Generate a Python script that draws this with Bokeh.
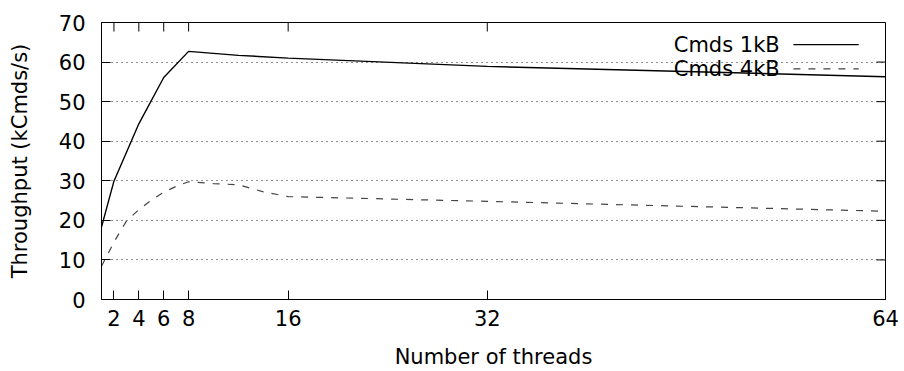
import math
from bokeh.plotting import figure
from bokeh.models import Range1d, FixedTicker, Label
from bokeh.embed import file_html
from bokeh.resources import INLINE

# Throughput vs. number of worker threads
threads_1k = [1, 2, 4, 6, 8, 12, 16, 32, 64]
kcmds_1k = [18.3, 29.9, 44.4, 56.1, 62.7, 61.7, 61.0, 58.9, 56.3]

threads_4k = [1, 2, 3, 4, 5, 6, 7, 8, 10, 12, 14, 16, 32, 64]
kcmds_4k = [8.4, 14.5, 19.8, 22.7, 25.1, 27.1, 28.6, 29.75, 29.3, 29.0, 27.2, 26.0, 24.8, 22.3]

x_ticks = [2, 4, 6, 8, 16, 32, 64]
y_ticks = [0, 10, 20, 30, 40, 50, 60, 70]

series_names = ["Cmds 1kB", "Cmds 4kB"]

FONT = "DejaVu Sans"
FS = "21px"
X_MIN, X_MAX = 1, 64
Y_MIN, Y_MAX = 0, 70
TICK_LEN = 9

p = figure(
    width=904, height=371,
    x_range=Range1d(X_MIN, X_MAX), y_range=Range1d(Y_MIN, Y_MAX),
    output_backend="svg", toolbar_location=None,
    min_border_left=101, min_border_right=19,
    min_border_top=22, min_border_bottom=72,
    x_axis_label="Number of threads",
    y_axis_label="Throughput (kCmds/s)",
)
p.background_fill_color = "white"
p.border_fill_color = "white"
p.outline_line_color = "black"
p.outline_line_width = 1

# dotted horizontal grid only
p.xgrid.visible = False
p.ygrid.ticker = FixedTicker(ticks=y_ticks)
p.ygrid.grid_line_color = "#222222"
p.ygrid.grid_line_dash = "1 4"
p.ygrid.grid_line_width = 1

for ax, ticks in ((p.xaxis[0], x_ticks), (p.yaxis[0], y_ticks)):
    ax.ticker = FixedTicker(ticks=ticks)
    ax.major_tick_in = TICK_LEN
    ax.major_tick_out = 0
    ax.minor_tick_in = 0
    ax.minor_tick_out = 0
    ax.axis_line_color = "black"
    ax.major_tick_line_color = "black"
    ax.major_label_text_font = FONT
    ax.major_label_text_font_size = FS
    ax.major_label_text_color = "black"
    ax.axis_label_text_font = FONT
    ax.axis_label_text_font_size = FS
    ax.axis_label_text_font_style = "normal"
    ax.axis_label_text_color = "black"

p.yaxis[0].major_label_standoff = 16
p.yaxis[0].axis_label_standoff = 24
p.xaxis[0].major_label_standoff = 10
p.xaxis[0].axis_label_standoff = 16

# mirrored inward ticks on the top and right edges
p.ray(x=x_ticks, y=[Y_MAX] * len(x_ticks), length=TICK_LEN, length_units="screen",
      angle=-math.pi / 2, line_color="black", line_width=1)
p.ray(x=[X_MAX] * len(y_ticks), y=y_ticks, length=TICK_LEN, length_units="screen",
      angle=math.pi, line_color="black", line_width=1)

p.line(threads_1k, kcmds_1k, line_color="black", line_width=1.4)
p.line(threads_4k, kcmds_4k, line_color="#444444", line_width=1.2, line_dash="7 8")

# key in the upper right: label text, then a line sample
key_text_x = 55.5
key_x0, key_x1 = 56.6, 61.85
key_rows = [64.4, 58.3]
key_styles = [dict(line_color="black", line_width=1.4),
              dict(line_color="#444444", line_width=1.2, line_dash="7 8")]
for name, ky, st in zip(series_names, key_rows, key_styles):
    p.add_layout(Label(x=key_text_x, y=ky, text=name, text_align="right",
                       text_baseline="middle", text_font=FONT, text_font_size=FS,
                       text_color="black"))
    p.line([key_x0, key_x1], [ky, ky], **st)

open("out.html", "w").write(file_html(p, INLINE))
